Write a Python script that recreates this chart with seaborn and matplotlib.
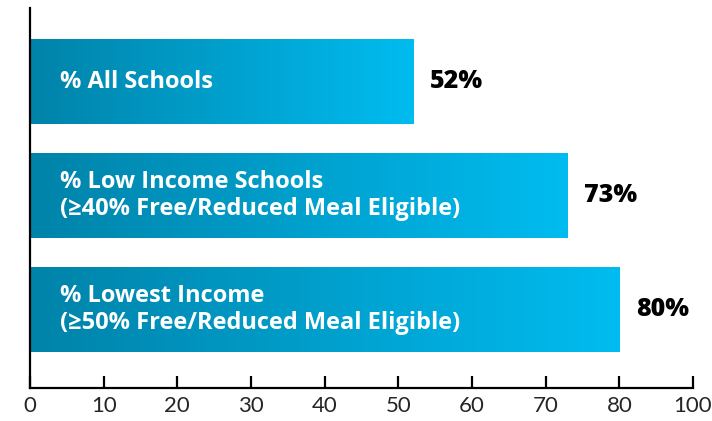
import numpy as np
import pandas as pd
import seaborn as sns
import matplotlib.pyplot as plt
from matplotlib.colors import LinearSegmentedColormap

categories = [
    "% All Schools",
    "% Low Income Schools\n(≥40% Free/Reduced Meal Eligible)",
    "% Lowest Income\n(≥50% Free/Reduced Meal Eligible)",
]
values = [52, 73, 80]
value_labels = ["52%", "73%", "80%"]
tick_values = [0, 10, 20, 30, 40, 50, 60, 70, 80, 90]
tick_labels = ["0", "10", "20", "30", "40", "50", "60", "70", "80", "100"]

df = pd.DataFrame({"categorie": categories, "valeur": values})

sns.set_style("white")
plt.rcParams["font.family"] = ["Open Sans", "DejaVu Sans"]

fig = plt.figure(figsize=(7.12, 4.21), dpi=100)
ax = fig.add_axes([0.0421, 0.0784, 0.9312, 0.9026])

sns.barplot(data=df, x="valeur", y="categorie", orient="h",
            width=0.746, color="#00a0d0", ax=ax)

ax.set_xlim(0, 90)
ax.set_ylim(2.689, -0.645)

# degradé sur chaque barre
cmap = LinearSegmentedColormap.from_list("bleu", ["#0083a9", "#00bcf0"])
grad = np.linspace(0, 1, 256).reshape(1, -1)
for p in ax.patches:
    x0, y0 = p.get_x(), p.get_y()
    w, h = p.get_width(), p.get_height()
    im = ax.imshow(grad, cmap=cmap, aspect="auto", zorder=2,
                   extent=(x0, x0 + w, y0 + h, y0), interpolation="bicubic")
    im.set_clip_path(p)
    p.set_facecolor("none")
    p.set_edgecolor("none")

ax.set_xlim(0, 90)
ax.set_ylim(2.689, -0.645)

# textes dans les barres et valeurs
for i, (cat, v, lab) in enumerate(zip(categories, values, value_labels)):
    ax.annotate(cat, xy=(0, i), xytext=(21.5, 0), textcoords="offset points",
                ha="left", va="center", color="white", fontsize=17,
                fontweight="bold", linespacing=1.12, zorder=3)
    ax.annotate(lab, xy=(v, i), xytext=(12, 0), textcoords="offset points",
                ha="left", va="center", color="black", fontsize=18,
                fontweight="heavy", zorder=3)

ax.set_xticks(tick_values)
ax.set_xticklabels(tick_labels, fontsize=16, family=["Lato", "DejaVu Sans"])
ax.set_yticks([])
ax.set_xlabel("")
ax.set_ylabel("")
ax.tick_params(axis="x", direction="in", length=9, width=1.6,
               color="black", pad=6, bottom=True)

for s in ["top", "right"]:
    ax.spines[s].set_visible(False)
for s in ["left", "bottom"]:
    ax.spines[s].set_color("black")
    ax.spines[s].set_linewidth(1.6)

fig.savefig("out.png", dpi=100)
